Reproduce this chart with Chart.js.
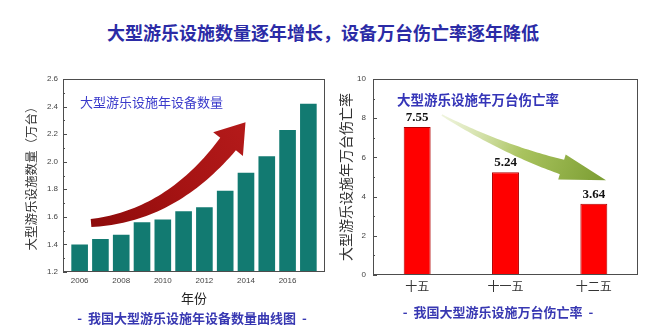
<!DOCTYPE html>
<html>
<head>
<meta charset="utf-8">
<script src="https://cdn.jsdelivr.net/npm/chart.js@4.4.1/dist/chart.umd.min.js"></script>
<style>
  body { margin: 0; background: #fff; width: 670px; height: 333px; position: relative; overflow: hidden; font-family: "Noto Sans CJK SC", sans-serif; }
  .title { position: absolute; left: 0; width: 646px; top: 19px; text-align: center; font-size: 18px; font-weight: bold; color: #2b2ba6; }
  .sub { position: absolute; font-size: 13px; font-weight: bold; color: #3838b2; white-space: nowrap; transform: translateX(-50%); }
  #leftWrap { position: absolute; left: 0; top: 60px; }
  #rightWrap { position: absolute; left: 330px; top: 60px; }
</style>
</head>
<body>
<div class="title">大型游乐设施数量逐年增长，设备万台伤亡率逐年降低</div>
<div id="leftWrap"><canvas id="leftChart" width="340" height="250"></canvas></div>
<div id="rightWrap"><canvas id="rightChart" width="340" height="250"></canvas></div>
<div class="sub" style="left:192px; top:308px;">- &nbsp;我国大型游乐设施年设备数量曲线图&nbsp; -</div>
<div class="sub" style="left:498px; top:302px;">- &nbsp;我国大型游乐设施万台伤亡率&nbsp; -</div>
<script>
// left chart data
const years = [2006, 2007, 2008, 2009, 2010, 2011, 2012, 2013, 2014, 2015, 2016, 2017];
const equipCount = [1.40, 1.44, 1.47, 1.56, 1.58, 1.64, 1.67, 1.79, 1.92, 2.04, 2.23, 2.42];
const yearTicks = [2006, 2008, 2010, 2012, 2014, 2016];

// right chart data
const periods = ["十五", "十一五", "十二五"];
const deathRate = [7.55, 5.24, 3.64];

const cjk = '"Noto Sans CJK SC", sans-serif';
const num = '"Liberation Sans", Arial, sans-serif';

// frame + inward tick marks
const frame = {
  id: "frame",
  afterDraw(chart) {
    const { ctx, chartArea: a, scales } = chart;
    ctx.save();
    ctx.strokeStyle = "#4d4d4d";
    ctx.lineWidth = 1;
    ctx.strokeRect(a.left + 0.5, a.top + 0.5, a.right - a.left - 1, a.bottom - a.top - 1);
    const y = scales.y;
    const vals = y.ticks.map((t) => t.value);
    ctx.beginPath();
    vals.forEach((v, i) => {
      const py = Math.round(y.getPixelForValue(v)) + 0.5;
      ctx.moveTo(a.left, py); ctx.lineTo(a.left + 4, py);
      if (i < vals.length - 1) {
        const pm = Math.round(y.getPixelForValue((v + vals[i + 1]) / 2)) + 0.5;
        ctx.moveTo(a.left, pm); ctx.lineTo(a.left + 2, pm);
      }
    });
    ctx.stroke();
    ctx.restore();
  }
};

// curved arrow decoration, points as fractions of chart area
function drawArrow(chart, s) {
  const { ctx, chartArea: a } = chart;
  const W = a.right - a.left, H = a.bottom - a.top;
  const P = (p) => [a.left + p[0] * W, a.top + p[1] * H];
  const p0 = P(s.p0), p1 = P(s.p1), p2 = P(s.p2);
  const L = [], R = [];
  const n = 40;
  for (let i = 0; i <= n; i++) {
    const t = i / n;
    const x = (1 - t) * (1 - t) * p0[0] + 2 * t * (1 - t) * p1[0] + t * t * p2[0];
    const y = (1 - t) * (1 - t) * p0[1] + 2 * t * (1 - t) * p1[1] + t * t * p2[1];
    let dx = 2 * (1 - t) * (p1[0] - p0[0]) + 2 * t * (p2[0] - p1[0]);
    let dy = 2 * (1 - t) * (p1[1] - p0[1]) + 2 * t * (p2[1] - p1[1]);
    const len = Math.hypot(dx, dy);
    dx /= len; dy /= len;
    const w = s.w0 + (s.w1 - s.w0) * t;
    L.push([x - dy * w, y + dx * w]);
    R.push([x + dy * w, y - dx * w]);
  }
  let ex = p2[0] - p1[0], ey = p2[1] - p1[1];
  const el = Math.hypot(ex, ey);
  ex /= el; ey /= el;
  const tip = [p2[0] + ex * s.headLen, p2[1] + ey * s.headLen];
  const hl = [p2[0] - ey * s.headHalf, p2[1] + ex * s.headHalf];
  const hr = [p2[0] + ey * s.headHalf, p2[1] - ex * s.headHalf];
  ctx.save();
  const g = ctx.createLinearGradient(p0[0], p0[1], tip[0], tip[1]);
  s.colors.forEach((c, i) => g.addColorStop(i / (s.colors.length - 1), c));
  ctx.fillStyle = g;
  ctx.beginPath();
  ctx.moveTo(L[0][0], L[0][1]);
  L.forEach((p) => ctx.lineTo(p[0], p[1]));
  ctx.lineTo(hl[0], hl[1]);
  ctx.lineTo(tip[0], tip[1]);
  ctx.lineTo(hr[0], hr[1]);
  for (let i = R.length - 1; i >= 0; i--) ctx.lineTo(R[i][0], R[i][1]);
  ctx.closePath();
  ctx.fill();
  ctx.restore();
}

function noteText(chart, text, fx, fy, font, color) {
  const { ctx, chartArea: a } = chart;
  ctx.save();
  ctx.font = font;
  ctx.fillStyle = color;
  ctx.textBaseline = "middle";
  ctx.fillText(text, a.left + fx, a.top + fy);
  ctx.restore();
}

const leftDeco = {
  id: "leftDeco",
  afterDatasetsDraw(chart) {
    noteText(chart, "大型游乐设施年设备数量", 17, 23, "13px " + cjk, "#3a3acb");
    drawArrow(chart, {
      p0: [0.107, 0.746], p1: [0.41, 0.712], p2: [0.63, 0.337],
      w0: 4, w1: 10, headHalf: 19, headLen: 28,
      colors: ["#8e0b0b", "#a51313", "#b41a1a"]
    });
  }
};

const rightDeco = {
  id: "rightDeco",
  afterDatasetsDraw(chart) {
    noteText(chart, "大型游乐设施年万台伤亡率", 24, 21, "bold 13.5px " + cjk, "#3535b8");
    drawArrow(chart, {
      p0: [0.26, 0.184], p1: [0.487, 0.357], p2: [0.713, 0.449],
      w0: 0.8, w1: 7.5, headHalf: 13, headLen: 46,
      colors: ["rgba(215,228,170,0.4)", "#a9c35e", "#7b9d32"]
    });
    const { ctx } = chart;
    const meta = chart.getDatasetMeta(0);
    ctx.save();
    ctx.font = 'bold 13px "Liberation Serif", "Times New Roman", serif';
    ctx.fillStyle = "#111";
    ctx.textAlign = "center";
    ctx.textBaseline = "bottom";
    meta.data.forEach((bar, i) => {
      ctx.fillText(deathRate[i].toFixed(2), bar.x, bar.y - 3);
    });
    ctx.restore();
  }
};

new Chart(document.getElementById("leftChart"), {
  type: "bar",
  data: {
    datasets: [{
      data: years.map((yr, i) => ({ x: yr, y: equipCount[i] })),
      backgroundColor: "#127a71",
      borderWidth: 0,
      categoryPercentage: 0.8,
      barPercentage: 1
    }]
  },
  options: {
    responsive: false,
    devicePixelRatio: 1,
    animation: false,
    layout: { padding: { left: 0, top: 19, right: 15, bottom: 0 } },
    plugins: { legend: { display: false }, tooltip: { enabled: false } },
    scales: {
      x: {
        type: "linear",
        offset: false,
        min: 2005.2,
        max: 2017.8,
        afterBuildTicks: (s) => { s.ticks = yearTicks.map((v) => ({ value: v })); },
        afterFit: (s) => { s.height = 38; },
        grid: { display: false, drawTicks: false },
        border: { display: false },
        ticks: { padding: 4, color: "#444", font: { family: num, size: 8 }, maxRotation: 0, callback: (v) => String(v) },
        title: { display: true, text: "年份", color: "#222", font: { family: cjk, size: 13 }, padding: { top: 0, bottom: 4 } }
      },
      y: {
        min: 1.2,
        max: 2.6,
        afterFit: (s) => { s.width = 63; },
        grid: { display: false, drawTicks: false },
        border: { display: false },
        ticks: { stepSize: 0.2, padding: 5, color: "#444", font: { family: num, size: 8 }, callback: (v) => v.toFixed(1) },
        title: { display: true, text: "大型游乐设施数量（万台）", color: "#333", font: { family: cjk, size: 12.5 }, padding: { top: 24, bottom: 0 } }
      }
    }
  },
  plugins: [frame, leftDeco]
});

new Chart(document.getElementById("rightChart"), {
  type: "bar",
  data: {
    labels: periods,
    datasets: [{
      data: deathRate,
      backgroundColor: "#ff0000",
      borderColor: "#b00000",
      borderWidth: 1,
      categoryPercentage: 1,
      barPercentage: 0.305
    }]
  },
  options: {
    responsive: false,
    devicePixelRatio: 1,
    animation: false,
    layout: { padding: { left: 0, top: 19, right: 32, bottom: 0 } },
    plugins: { legend: { display: false }, tooltip: { enabled: false } },
    scales: {
      x: {
        afterFit: (s) => { s.height = 35; },
        grid: { display: false, drawTicks: false },
        border: { display: false },
        ticks: { padding: 4, color: "#333", font: { family: cjk, size: 12 } }
      },
      y: {
        min: 0,
        max: 10,
        afterFit: (s) => { s.width = 43; },
        grid: { display: false, drawTicks: false },
        border: { display: false },
        ticks: { stepSize: 2, padding: 7, color: "#444", font: { family: num, size: 8 } },
        title: { display: true, text: "大型游乐设施年万台伤亡率", color: "#333", font: { family: cjk, size: 14 }, padding: { top: 7, bottom: 0 } }
      }
    }
  },
  plugins: [frame, rightDeco]
});
</script>
</body>
</html>
